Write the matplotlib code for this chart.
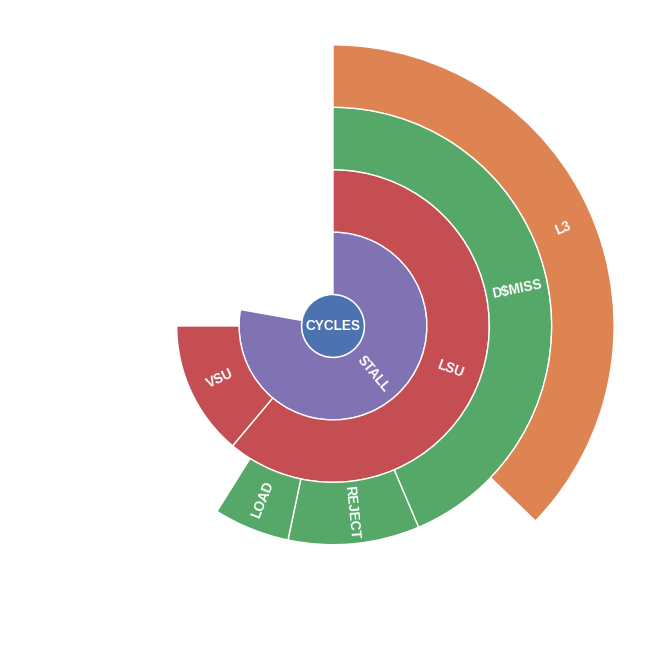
import math
import matplotlib
matplotlib.use("Agg")
import matplotlib.pyplot as plt
from matplotlib.patches import Wedge, Circle

# Hierarchy of the sunburst (value = share of the full circle, in %)
names = ["CYCLES", "STALL", "LSU", "VSU", "D$MISS", "REJECT", "LOAD", "L3"]
parents = [None, "CYCLES", "STALL", "STALL", "LSU", "LSU", "LSU", "D$MISS"]
values = [100.0, 77.8, 61.1, 13.9, 43.6, 9.7, 5.6, 37.2]

# seaborn "deep" colours, one per depth
DEPTH_COLORS = ["#4c72b0", "#8172b3", "#c44e52", "#55a868", "#dd8452"]

W, H = 664, 654
CX, CY = 333, H - 326
R0 = 31.5        # radius of the centre disc
RING = 62.4      # width of each ring

fig = plt.figure(figsize=(W / 100, H / 100), dpi=100)
ax = fig.add_axes([0, 0, 1, 1])
ax.set_xlim(0, W)
ax.set_ylim(0, H)
ax.axis("off")

total = values[0]
depth = {}
start = {}
span = {}
cursor = {}
for name, parent, val in zip(names, parents, values):
    if parent is None:
        depth[name] = 0
        start[name] = 0.0
    else:
        depth[name] = depth[parent] + 1
        start[name] = cursor.get(parent, start[parent])
        cursor[parent] = start[name] + val / total * 360
    span[name] = val / total * 360

label_style = dict(color="white", fontsize=9.8, fontweight="bold",
                   family=["Liberation Sans", "DejaVu Sans"],
                   ha="center", va="center")

for name in names:
    d = depth[name]
    col = DEPTH_COLORS[d]
    if d == 0:
        ax.add_patch(Circle((CX, CY), R0, facecolor=col, edgecolor="white", lw=1))
        ax.text(CX, CY, name, **label_style)
        continue
    r_in = R0 + (d - 1) * RING
    r_out = r_in + RING
    b0, b1 = start[name], start[name] + span[name]   # clockwise from top
    ax.add_patch(Wedge((CX, CY), r_out, 90 - b1, 90 - b0, width=RING,
                       facecolor=col, edgecolor="white", lw=1))
    mid = (b0 + b1) / 2
    rm = (r_in + r_out) / 2
    th = math.radians(90 - mid)
    x, y = CX + rm * math.cos(th), CY + rm * math.sin(th)
    rot = 90 - mid
    if rot < -90:
        rot += 180
    ax.text(x, y, name, rotation=rot, rotation_mode="anchor", **label_style)

fig.savefig("out.png", dpi=100, facecolor="white")
